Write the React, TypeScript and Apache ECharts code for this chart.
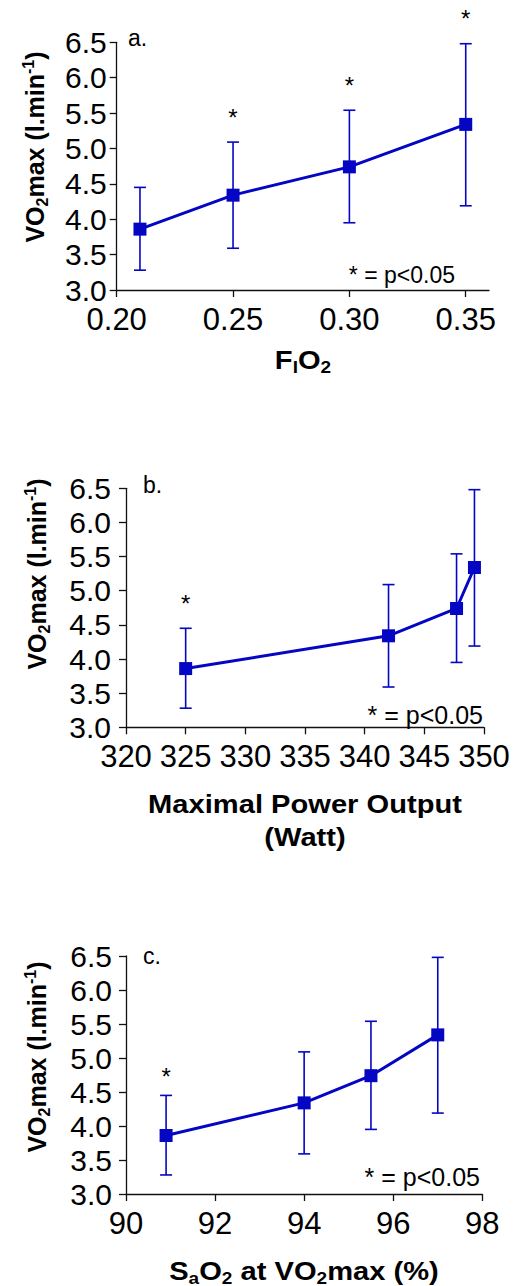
import React, { useEffect, useRef } from "react";
import * as echarts from "echarts";

// ---- data ----
const fio2 = [0.21, 0.25, 0.3, 0.35];
const powerOutput = [325, 342, 347.7, 349.2];
const sao2 = [90.9, 94.0, 95.5, 97.0];
const vo2Mean = [3.86, 4.34, 4.74, 5.34];
const vo2Upper = [4.45, 5.09, 5.54, 6.48];
const vo2Lower = [3.28, 3.59, 3.95, 4.19];
const sigA = [false, true, true, true];
const sigB = [true, false, false, false];
const sigC = [true, false, false, false];
const yTicks = [3.0, 3.5, 4.0, 4.5, 5.0, 5.5, 6.0, 6.5];
const xTicksA = [0.2, 0.25, 0.3, 0.35];
const xTicksB = [320, 325, 330, 335, 340, 345, 350];
const xTicksC = [90, 92, 94, 96, 98];
const sigNote = "* = p<0.05";
const panelLetters = ["a.", "b.", "c."];

const BLUE = "#0505c4";
const FONT = "'Liberation Sans', Arial, sans-serif";

export default function App() {
  const ref = useRef<HTMLDivElement>(null);

  useEffect(() => {
    if (!ref.current) return;
    const chart = echarts.init(ref.current, undefined, { renderer: "svg" });

    const panels = [
      { xs: fio2, sig: sigA, grid: { left: 116.7, right: 32, top: 42.3, height: 247.7 }, x: { min: 0.2, max: 0.36, interval: 0.05, ticks: xTicksA, dec: 2 }, yMargin: 10, starOff: 25 },
      { xs: powerOutput, sig: sigB, grid: { left: 126, right: 37, top: 488.3, height: 239 }, x: { min: 320, max: 350, interval: 5, ticks: xTicksB, dec: 0 }, yMargin: 15, starOff: 25 },
      { xs: sao2, sig: sigC, grid: { left: 126, right: 38.7, top: 956, height: 238 }, x: { min: 90, max: 98, interval: 2, ticks: xTicksC, dec: 0 }, yMargin: 14, starOff: 19 },
    ];

    const axisLine = { show: true, lineStyle: { color: "#111", width: 1.3 } };
    const axisTick = { show: true, inside: false, length: 7, lineStyle: { color: "#111", width: 1.3 } };

    const grids: any[] = [];
    const xAxes: any[] = [];
    const yAxes: any[] = [];
    const series: any[] = [];

    panels.forEach((p, gi) => {
      grids.push({ ...p.grid, containLabel: false });
      xAxes.push({
        type: "value",
        gridIndex: gi,
        min: p.x.min,
        max: p.x.max,
        interval: p.x.interval,
        splitLine: { show: false },
        axisLine,
        axisTick: { ...axisTick, customValues: p.x.ticks },
        axisLabel: {
          customValues: p.x.ticks,
          margin: 14,
          fontSize: 31,
          color: "#000",
          fontFamily: FONT,
          formatter: (v: number) => v.toFixed(p.x.dec),
        },
      });
      yAxes.push({
        type: "value",
        gridIndex: gi,
        min: 3,
        max: 6.5,
        interval: 0.5,
        splitLine: { show: false },
        axisLine,
        axisTick: { ...axisTick, customValues: yTicks },
        axisLabel: {
          customValues: yTicks,
          margin: p.yMargin,
          fontSize: 30,
          color: "#000",
          fontFamily: FONT,
          formatter: (v: number) => v.toFixed(1),
        },
      });

      const errData = p.xs.map((x, i) => [x, vo2Lower[i], vo2Upper[i]]);
      series.push({
        type: "custom",
        xAxisIndex: gi,
        yAxisIndex: gi,
        clip: false,
        z: 1,
        data: errData,
        encode: { x: 0, y: [1, 2] },
        renderItem: (params: any, api: any) => {
          const x = api.value(0);
          const lo = api.coord([x, api.value(1)]);
          const hi = api.coord([x, api.value(2)]);
          const w = 6;
          const st = { stroke: BLUE, lineWidth: 1.6 };
          return {
            type: "group",
            children: [
              { type: "line", shape: { x1: hi[0], y1: hi[1], x2: lo[0], y2: lo[1] }, style: st },
              { type: "line", shape: { x1: hi[0] - w, y1: hi[1], x2: hi[0] + w, y2: hi[1] }, style: st },
              { type: "line", shape: { x1: lo[0] - w, y1: lo[1], x2: lo[0] + w, y2: lo[1] }, style: st },
            ],
          };
        },
      });

      series.push({
        type: "line",
        xAxisIndex: gi,
        yAxisIndex: gi,
        z: 3,
        data: p.xs.map((x, i) => [x, vo2Mean[i]]),
        symbol: "rect",
        symbolSize: 13,
        lineStyle: { color: BLUE, width: 3 },
        itemStyle: { color: BLUE },
      });

      const starData = p.xs
        .map((x, i) => (p.sig[i] ? [x, vo2Upper[i]] : null))
        .filter((d) => d !== null);
      const off = p.starOff;
      series.push({
        type: "custom",
        xAxisIndex: gi,
        yAxisIndex: gi,
        clip: false,
        z: 4,
        data: starData,
        encode: { x: 0, y: 1 },
        renderItem: (params: any, api: any) => {
          const pt = api.coord([api.value(0), api.value(1)]);
          return {
            type: "text",
            x: pt[0],
            y: pt[1] - off,
            style: { text: "*", fontSize: 24, fontFamily: FONT, fill: "#000", align: "center", verticalAlign: "middle" },
          };
        },
      });
    });

    const mkRich = (size: number, sub: number) => ({
      m: { fontSize: size, fontWeight: "bold", fontFamily: FONT, fill: "#000", lineHeight: size + 5, verticalAlign: "middle" },
      sub: { fontSize: sub, fontWeight: "bold", fontFamily: FONT, fill: "#000", lineHeight: sub, verticalAlign: "bottom" },
      sup: { fontSize: sub, fontWeight: "bold", fontFamily: FONT, fill: "#000", lineHeight: sub, verticalAlign: "top" },
    });
    const yRich = mkRich(25, 16);
    const xRich = mkRich(26, 17);
    const yTitle = "{m|VO}{sub|2}{m|max (l.min}{sup|-1}{m|)}";

    const mkText = (x: number, y: number, text: string, extra: any = {}, rotation = 0, scaleX = 1) => ({
      type: "text",
      x,
      y,
      rotation,
      scaleX,
      z: 10,
      style: { text, fontFamily: FONT, fill: "#000", ...extra },
    });

    const SX = 1.12;
    const graphic: any[] = [
      // panel letters
      mkText(128, 38, panelLetters[0], { fontSize: 23, align: "left", verticalAlign: "middle" }),
      mkText(143, 485, panelLetters[1], { fontSize: 23, align: "left", verticalAlign: "middle" }),
      mkText(143, 956, panelLetters[2], { fontSize: 23, align: "left", verticalAlign: "middle" }),
      // significance notes
      mkText(455, 275, sigNote, { fontSize: 23, align: "right", verticalAlign: "middle" }),
      mkText(483, 715, sigNote, { fontSize: 25, align: "right", verticalAlign: "middle" }),
      mkText(480, 1177, sigNote, { fontSize: 25, align: "right", verticalAlign: "middle" }),
      // y titles
      mkText(35, 147, yTitle, { rich: yRich, align: "center", verticalAlign: "middle" }, Math.PI / 2),
      mkText(37, 574, yTitle, { rich: yRich, align: "center", verticalAlign: "middle" }, Math.PI / 2),
      mkText(37, 1057, yTitle, { rich: yRich, align: "center", verticalAlign: "middle" }, Math.PI / 2),
      // x titles
      mkText(303, 360, "{m|F}{sub|I}{m|O}{sub|2}", { rich: xRich, align: "center", verticalAlign: "middle" }, 0, SX),
      mkText(305, 804, "{m|Maximal Power Output}", { rich: xRich, align: "center", verticalAlign: "middle" }, 0, SX),
      mkText(305, 837, "{m|(Watt)}", { rich: xRich, align: "center", verticalAlign: "middle" }, 0, SX),
      mkText(304, 1271, "{m|S}{sub|a}{m|O}{sub|2}{m| at VO}{sub|2}{m|max (%)}", { rich: xRich, align: "center", verticalAlign: "middle" }, 0, SX),
    ];

    chart.setOption({
      animation: false,
      backgroundColor: "#fff",
      textStyle: { fontFamily: FONT },
      grid: grids,
      xAxis: xAxes,
      yAxis: yAxes,
      series,
      graphic,
    });

    return () => chart.dispose();
  }, []);

  return (
    <div
      ref={ref}
      style={{ position: "absolute", left: 0, top: 0, width: 521, height: 1286, background: "#fff" }}
    />
  );
}
